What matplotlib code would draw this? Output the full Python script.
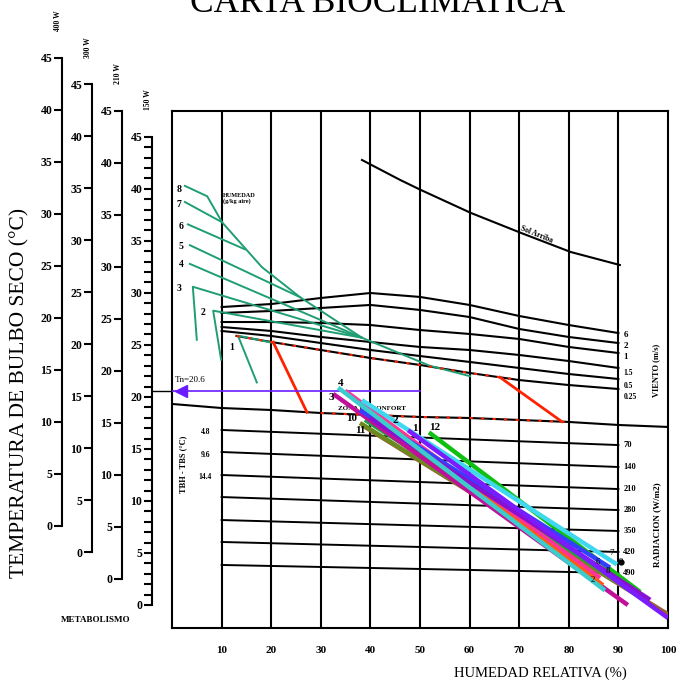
#!/usr/bin/env python3
"""Carta bioclimatica (Olgyay) redibujada con matplotlib."""

import matplotlib
matplotlib.use("Agg")
import matplotlib.pyplot as plt

plt.rcParams["font.family"] = ["Liberation Serif", "DejaVu Serif"]

# ---- datos -----------------------------------------------------------
HUM_TICKS = [10, 20, 30, 40, 50, 60, 70, 80, 90, 100]

# lineas de viento (m/s): T a lo largo de la humedad relativa
WIND_H = [10, 20, 30, 40, 50, 60, 70, 80, 90]
WIND_LABELS = ["6", "2", "1", "1.5", "0.5"]
WIND_T = [
    [28.65, 28.94, 29.52, 30.00, 29.62, 28.85, 27.79, 26.92, 26.15],
    [28.08, 28.27, 28.56, 28.85, 28.37, 27.69, 26.54, 25.77, 25.19],
    [27.21, 27.21, 27.12, 26.92, 26.44, 26.06, 25.58, 24.81, 24.23],
    [26.73, 26.35, 25.77, 25.29, 24.81, 24.52, 24.04, 23.46, 22.79],
    [26.35, 25.87, 25.19, 24.52, 23.94, 23.37, 22.79, 22.21, 21.73],
]
# linea 0.25 m/s = limite superior de confort
UPPER_H = [13, 20, 30, 40, 50, 60, 70, 80, 90]
UPPER_T = [25.87, 25.29, 24.52, 23.75, 23.08, 22.31, 21.63, 21.15, 20.77]

# limite inferior de confort
LOWER_H = [0, 10, 20, 30, 40, 50, 60, 70, 80, 90, 100]
LOWER_T = [19.33, 18.94, 18.75, 18.46, 18.27, 18.08, 17.98, 17.79, 17.60, 17.31, 17.12]

# bordes rojos de la zona de confort
COMFORT_LEFT_H = [20.4, 27.2]
COMFORT_LEFT_T = [25.27, 18.54]
COMFORT_RIGHT_H = [66.1, 78.6]
COMFORT_RIGHT_T = [21.90, 17.63]

# radiacion (W/m2)
RAD_LABELS = ["70", "140", "210", "280", "350", "420", "490"]
RAD_H = [10, 90]
RAD_T_LEFT = [16.83, 14.71, 12.50, 10.38, 8.17, 6.06, 3.85]
RAD_T_RIGHT = [15.38, 13.27, 11.15, 9.13, 7.12, 5.10, 3.08]
TBH_LABELS = ["4.8", "9.6", "14.4"]
TBH_T = [16.6, 14.4, 12.3]

# curva superior
TOP_H = [38.3, 46.0, 50.2, 60.3, 70.4, 80.4, 90.3]
TOP_T = [42.79, 40.87, 39.90, 37.69, 35.77, 33.94, 32.69]

# lineas de humedad absoluta (g/kg aire)
GREEN_LABELS = ["8", "7", "6", "5", "4", "3", "2", "1"]
GREEN_LABEL_H = [1.4, 1.4, 1.8, 1.8, 1.8, 1.4, 6.3, 12.1]
GREEN_LABEL_T = [40.0, 38.5, 36.4, 34.5, 32.7, 30.4, 28.1, 24.8]
GREEN_LINES = [
    ([2.6, 7.1, 10.1, 18.1, 25.8, 38.3, 52.0, 60.1],
     [40.3, 39.3, 36.8, 32.5, 29.6, 25.7, 23.0, 22.0]),
    ([2.6, 10.1], [38.75, 36.8]),
    ([3.2, 14.7], [36.6, 34.2]),
    ([3.6, 25.8], [34.6, 29.6]),
    ([3.6, 38.3], [32.8, 25.7]),
    ([5.0, 4.2, 38.3], [25.5, 30.6, 25.7]),
    ([9.9, 8.3, 38.3], [23.6, 28.3, 25.7]),
    ([17.1, 13.3, 20.4], [21.4, 25.9, 25.2]),
]

# meses: (HR min, T max) -> (HR max, T min)
MONTHS = ["1", "2", "3", "4", "5", "6", "7", "8", "9", "10", "11", "12"]
MONTH_H0 = [47.6, 41.5, 32.5, 33.5, 34.9, 37.9, 38.3, 38.9, 39.9, 37.9, 38.3, 51.8]
MONTH_T0 = [16.8, 18.0, 20.3, 20.9, 20.6, 18.75, 19.7, 17.8, 18.0, 17.5, 17.3, 16.6]
MONTH_H1 = [100.0, 86.9, 91.9, 87.3, 86.3, 88.3, 89.7, 94.4, 96.4, 95.4, 100.0, 94.4]
MONTH_T1 = [-1.25, 1.9, 0.0, 1.4, 2.6, 3.6, 3.9, 1.0, 0.5, 0.5, -0.9, 1.25]
MONTH_COLORS = ["#7a1cff", "#ff5a10", "#c0109a", "#3ccccc", "#ff3399", "#3340ff",
                "#40d8f0", "#20a040", "#8a10d0", "#6a8a20", "#9a6030", "#10c010"]
MONTH_ORDER = [10, 9, 7, 11, 2, 4, 1, 5, 8, 3, 6, 0]

START_LABELS = ["4", "3", "10", "11", "2", "1", "12"]
START_H = [34.1, 32.1, 36.3, 37.9, 45.0, 49.0, 53.0]
START_T = [21.25, 20.0, 17.9, 16.8, 17.7, 17.0, 17.1]
END_LABELS = ["7", "6", "8", "9", "2"]
END_H = [88.7, 85.9, 87.8, 90.6, 84.9]
END_T = [5.0, 4.1, 3.3, 4.1, 2.4]

TN = 20.6

# escalas de temperatura segun metabolismo
SCALES = ["400 W", "300 W", "210 W", "150 W"]

# ---- geometria (pixeles de la imagen 678 x 686) ----------------------
W, H = 678, 686
PX_PER_DEG = 10.4


def fx(x):
    return x / W


def fy(y):
    return 1 - y / H


fig = plt.figure(figsize=(6.78, 6.86), dpi=100)

box_l, box_r, box_t, box_b = 172, 668, 111, 628
zero_y = 605
ax = fig.add_axes([fx(box_l), fy(box_b), (box_r - box_l) / W, (box_b - box_t) / H])
ax.set_xlim(0, 100)
ax.set_ylim((zero_y - box_b) / PX_PER_DEG, (zero_y - box_t) / PX_PER_DEG)
for s in ax.spines.values():
    s.set_linewidth(1.5)
ax.set_yticks([])
ax.set_xticks(HUM_TICKS)
ax.set_xticklabels([str(v) for v in HUM_TICKS], fontsize=8, fontweight="bold")
ax.tick_params(axis="x", length=0, pad=13)

for h in HUM_TICKS[:-1]:
    ax.axvline(h, color="black", lw=1.5, zorder=1)

# viento
for lab, ts in zip(WIND_LABELS, WIND_T):
    ax.plot(WIND_H, ts, color="black", lw=1.5, zorder=2)
ax.plot(UPPER_H, UPPER_T, color="black", lw=1.5, zorder=2)
wind_ends = [t[-1] for t in WIND_T] + [UPPER_T[-1]]
for i, (lab, t) in enumerate(zip(WIND_LABELS + ["0.25"], wind_ends)):
    ax.text(91.0, t - 0.15 - 0.12 * i, lab, fontsize=5.5 if len(lab) > 1 else 6.5,
            fontweight="bold", ha="left", va="center")
ax.text(97.6, 22.6, "VIENTO (m/s)", rotation=90, fontsize=6, fontweight="bold",
        ha="center", va="center")

# limite inferior
ax.plot(LOWER_H, LOWER_T, color="black", lw=1.5, zorder=2)

# radiacion
for lab, t0, t1 in zip(RAD_LABELS, RAD_T_LEFT, RAD_T_RIGHT):
    ax.plot(RAD_H, [t0, t1], color="black", lw=1.4, zorder=2)
    ax.text(91.0, t1, lab, fontsize=6, fontweight="bold", ha="left", va="center")
ax.text(97.8, 7.7, "RADIACION (W/m2)", rotation=90, fontsize=6.5, fontweight="bold",
        ha="center", va="center")
for lab, t in zip(TBH_LABELS, TBH_T):
    ax.text(6.7, t, lab, fontsize=5.5, fontweight="bold", ha="center", va="center")
ax.text(2.3, 13.5, "TBH - TBS (°C)", rotation=90, fontsize=6, fontweight="bold",
        ha="center", va="center")

# curva superior
ax.plot(TOP_H, TOP_T, color="black", lw=1.5, zorder=2)
ax.text(73.5, 35.6, "Sol Arriba", rotation=-22, fontsize=5.5, fontweight="bold",
        ha="center", va="center")

# humedad absoluta
green = "#1f9e74"
for xs, ys in GREEN_LINES:
    ax.plot(xs, ys, color=green, lw=1.4, zorder=3)
for lab, h, t in zip(GREEN_LABELS, GREEN_LABEL_H, GREEN_LABEL_T):
    ax.text(h, t, lab, fontsize=7, fontweight="bold", ha="center", va="center")
ax.text(10.3, 39.1, "HUMEDAD\n(g/kg aire)", fontsize=4.5, fontweight="bold",
        ha="left", va="center", linespacing=1.1)

# zona de confort
red = "#ff2200"
ax.plot(COMFORT_LEFT_H, COMFORT_LEFT_T, color=red, lw=2.0, zorder=4)
ax.plot(COMFORT_RIGHT_H, COMFORT_RIGHT_T, color=red, lw=2.0, zorder=4)
ax.plot(UPPER_H[:7], UPPER_T[:7], color=red, lw=1.5, dashes=(1.5, 4), zorder=4)
ax.plot(LOWER_H[3:9], LOWER_T[3:9], color=red, lw=1.5, dashes=(1.5, 4), zorder=4)
ax.text(33.5, 18.9, "ZONA DE CONFORT", fontsize=5, fontweight="bold",
        ha="left", va="center", zorder=3)

# temperatura neutra
ax.plot([0, 50], [TN, TN], color="#6a1cff", lw=1.2, zorder=5)
ax.plot([-4.0, 0], [TN, TN], color="black", lw=1.0, clip_on=False)
ax.plot([1.8], [TN], marker="<", color="#6a1cff", markersize=9, zorder=5)
ax.text(0.6, TN + 1.0, f"Tn={TN}", fontsize=6.5, ha="left", va="center")

# meses
for i in MONTH_ORDER:
    ax.plot([MONTH_H0[i], MONTH_H1[i]], [MONTH_T0[i], MONTH_T1[i]],
            color=MONTH_COLORS[i], lw=3.2, solid_capstyle="butt", zorder=6)
for lab, h, t in zip(START_LABELS, START_H, START_T):
    ax.text(h, t, lab, fontsize=8, fontweight="bold", ha="center", va="center", zorder=7)
for lab, h, t in zip(END_LABELS, END_H, END_T):
    ax.text(h, t, lab, fontsize=6.5, ha="center", va="center", zorder=7)
ax.plot([90.5], [4.1], marker="o", color="black", markersize=3.5, zorder=7)

# escalas de metabolismo
for k, lab in enumerate(SCALES):
    sx = 62 + 30 * k
    sy = 526 + 26.3 * k
    sa = fig.add_axes([fx(sx), fy(sy), 0.0005, 45 * PX_PER_DEG / H])
    sa.patch.set_visible(False)
    sa.set_ylim(0, 45)
    sa.set_xticks([])
    for name in ["top", "right", "bottom"]:
        sa.spines[name].set_visible(False)
    sa.spines["left"].set_linewidth(1.5)
    sa.set_yticks(range(0, 46, 5))
    sa.set_yticklabels([str(v) for v in range(0, 46, 5)], fontsize=8.5, fontweight="bold")
    sa.tick_params(axis="y", length=6, width=1.5, pad=1)
    if lab == "150 W":
        sa.set_yticks(range(0, 46), minor=True)
        sa.tick_params(axis="y", which="minor", length=6, width=1.5)
    fig.text(fx(sx - 4), fy(sy - 45 * PX_PER_DEG - 37), lab, rotation=90,
             fontsize=5.5, fontweight="bold", ha="center", va="center")

fig.text(fx(20), fy(393), "TEMPERATURA DE BULBO SECO (°C)", rotation=90,
         fontsize=15.5, ha="center", va="center")
fig.text(fx(96), fy(620), "METABOLISMO", fontsize=6.5, fontweight="bold",
         ha="center", va="center")
fig.text(fx(540), fy(673), "HUMEDAD RELATIVA (%)", fontsize=10.5,
         ha="center", va="center")
fig.text(fx(378), fy(12), "CARTA BIOCLIMATICA", fontsize=25.5,
         ha="center", va="baseline")

fig.savefig("out.png", dpi=100)
